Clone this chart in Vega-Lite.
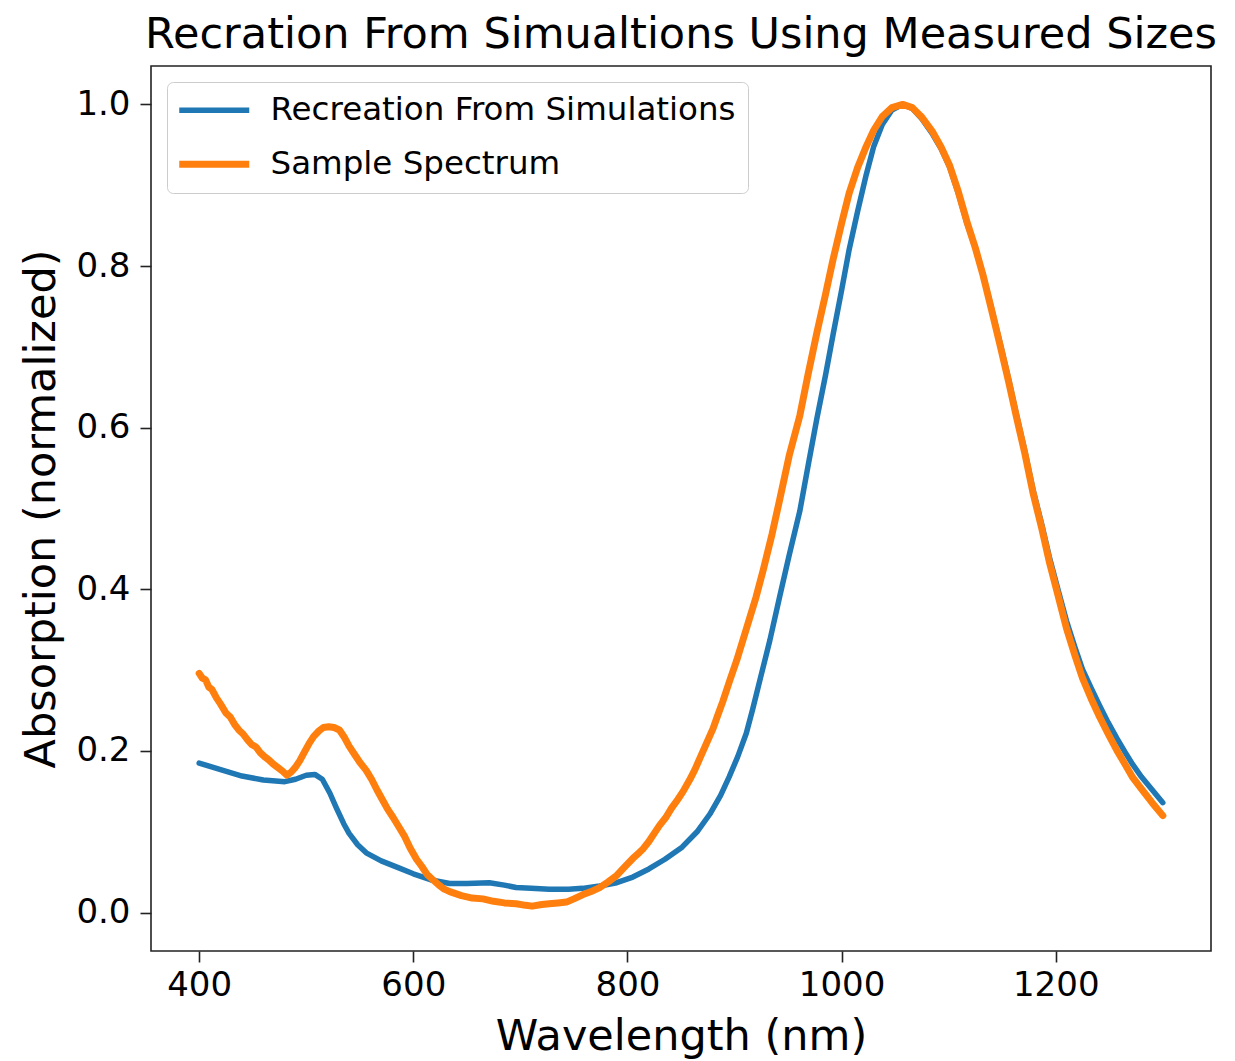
{
  "$schema": "https://vega.github.io/schema/vega-lite/v6.json",
  "autosize": {"type": "none"},
  "width": 1060,
  "height": 885,
  "padding": {"left": 151, "top": 66, "right": 24, "bottom": 110},
  "background": "white",
  "config": {
    "font": "DejaVu Sans",
    "view": {"stroke": "#222222", "strokeWidth": 1.6},
    "axis": {"grid": false, "domain": false, "tickColor": "#222222", "tickWidth": 1.6, "tickSize": 11, "labelColor": "black", "titleColor": "black", "labelFont": "DejaVu Sans", "titleFont": "DejaVu Sans", "titleFontWeight": "normal", "labelFontSize": 34, "titleFontSize": 43},
    "title": {"font": "DejaVu Sans", "fontSize": 43, "fontWeight": "normal", "color": "black"}
  },
  "title": {"text": "Recration From Simualtions Using Measured Sizes", "anchor": "middle", "offset": 9},
  "data": {"values": [
    {"wl": 400, "v": 0.185, "s": "Recreation From Simulations"},
    {"wl": 420, "v": 0.177, "s": "Recreation From Simulations"},
    {"wl": 440, "v": 0.169, "s": "Recreation From Simulations"},
    {"wl": 460, "v": 0.164, "s": "Recreation From Simulations"},
    {"wl": 480, "v": 0.162, "s": "Recreation From Simulations"},
    {"wl": 490, "v": 0.165, "s": "Recreation From Simulations"},
    {"wl": 500, "v": 0.170, "s": "Recreation From Simulations"},
    {"wl": 508, "v": 0.171, "s": "Recreation From Simulations"},
    {"wl": 515, "v": 0.165, "s": "Recreation From Simulations"},
    {"wl": 522, "v": 0.148, "s": "Recreation From Simulations"},
    {"wl": 528, "v": 0.130, "s": "Recreation From Simulations"},
    {"wl": 535, "v": 0.110, "s": "Recreation From Simulations"},
    {"wl": 540, "v": 0.098, "s": "Recreation From Simulations"},
    {"wl": 548, "v": 0.084, "s": "Recreation From Simulations"},
    {"wl": 556, "v": 0.074, "s": "Recreation From Simulations"},
    {"wl": 570, "v": 0.064, "s": "Recreation From Simulations"},
    {"wl": 587, "v": 0.055, "s": "Recreation From Simulations"},
    {"wl": 600, "v": 0.048, "s": "Recreation From Simulations"},
    {"wl": 618, "v": 0.040, "s": "Recreation From Simulations"},
    {"wl": 634, "v": 0.036, "s": "Recreation From Simulations"},
    {"wl": 650, "v": 0.036, "s": "Recreation From Simulations"},
    {"wl": 671, "v": 0.037, "s": "Recreation From Simulations"},
    {"wl": 685, "v": 0.034, "s": "Recreation From Simulations"},
    {"wl": 696, "v": 0.031, "s": "Recreation From Simulations"},
    {"wl": 710, "v": 0.030, "s": "Recreation From Simulations"},
    {"wl": 727, "v": 0.029, "s": "Recreation From Simulations"},
    {"wl": 745, "v": 0.029, "s": "Recreation From Simulations"},
    {"wl": 758, "v": 0.030, "s": "Recreation From Simulations"},
    {"wl": 774, "v": 0.033, "s": "Recreation From Simulations"},
    {"wl": 790, "v": 0.037, "s": "Recreation From Simulations"},
    {"wl": 805, "v": 0.044, "s": "Recreation From Simulations"},
    {"wl": 820, "v": 0.054, "s": "Recreation From Simulations"},
    {"wl": 835, "v": 0.066, "s": "Recreation From Simulations"},
    {"wl": 851, "v": 0.081, "s": "Recreation From Simulations"},
    {"wl": 865, "v": 0.100, "s": "Recreation From Simulations"},
    {"wl": 877, "v": 0.122, "s": "Recreation From Simulations"},
    {"wl": 887, "v": 0.145, "s": "Recreation From Simulations"},
    {"wl": 895, "v": 0.168, "s": "Recreation From Simulations"},
    {"wl": 903, "v": 0.193, "s": "Recreation From Simulations"},
    {"wl": 911, "v": 0.222, "s": "Recreation From Simulations"},
    {"wl": 917, "v": 0.252, "s": "Recreation From Simulations"},
    {"wl": 923, "v": 0.284, "s": "Recreation From Simulations"},
    {"wl": 933, "v": 0.337, "s": "Recreation From Simulations"},
    {"wl": 942, "v": 0.390, "s": "Recreation From Simulations"},
    {"wl": 951, "v": 0.442, "s": "Recreation From Simulations"},
    {"wl": 961, "v": 0.497, "s": "Recreation From Simulations"},
    {"wl": 969, "v": 0.555, "s": "Recreation From Simulations"},
    {"wl": 977, "v": 0.612, "s": "Recreation From Simulations"},
    {"wl": 985, "v": 0.665, "s": "Recreation From Simulations"},
    {"wl": 992, "v": 0.715, "s": "Recreation From Simulations"},
    {"wl": 1000, "v": 0.770, "s": "Recreation From Simulations"},
    {"wl": 1007, "v": 0.820, "s": "Recreation From Simulations"},
    {"wl": 1015, "v": 0.868, "s": "Recreation From Simulations"},
    {"wl": 1023, "v": 0.913, "s": "Recreation From Simulations"},
    {"wl": 1030, "v": 0.948, "s": "Recreation From Simulations"},
    {"wl": 1038, "v": 0.975, "s": "Recreation From Simulations"},
    {"wl": 1047, "v": 0.993, "s": "Recreation From Simulations"},
    {"wl": 1057, "v": 1.0, "s": "Recreation From Simulations"},
    {"wl": 1066, "v": 0.995, "s": "Recreation From Simulations"},
    {"wl": 1075, "v": 0.982, "s": "Recreation From Simulations"},
    {"wl": 1085, "v": 0.963, "s": "Recreation From Simulations"},
    {"wl": 1093, "v": 0.945, "s": "Recreation From Simulations"},
    {"wl": 1101, "v": 0.922, "s": "Recreation From Simulations"},
    {"wl": 1109, "v": 0.890, "s": "Recreation From Simulations"},
    {"wl": 1117, "v": 0.853, "s": "Recreation From Simulations"},
    {"wl": 1125, "v": 0.822, "s": "Recreation From Simulations"},
    {"wl": 1132, "v": 0.790, "s": "Recreation From Simulations"},
    {"wl": 1140, "v": 0.748, "s": "Recreation From Simulations"},
    {"wl": 1148, "v": 0.705, "s": "Recreation From Simulations"},
    {"wl": 1156, "v": 0.660, "s": "Recreation From Simulations"},
    {"wl": 1163, "v": 0.618, "s": "Recreation From Simulations"},
    {"wl": 1171, "v": 0.572, "s": "Recreation From Simulations"},
    {"wl": 1179, "v": 0.522, "s": "Recreation From Simulations"},
    {"wl": 1187, "v": 0.480, "s": "Recreation From Simulations"},
    {"wl": 1194, "v": 0.440, "s": "Recreation From Simulations"},
    {"wl": 1202, "v": 0.400, "s": "Recreation From Simulations"},
    {"wl": 1210, "v": 0.361, "s": "Recreation From Simulations"},
    {"wl": 1218, "v": 0.328, "s": "Recreation From Simulations"},
    {"wl": 1225, "v": 0.301, "s": "Recreation From Simulations"},
    {"wl": 1233, "v": 0.278, "s": "Recreation From Simulations"},
    {"wl": 1241, "v": 0.256, "s": "Recreation From Simulations"},
    {"wl": 1249, "v": 0.235, "s": "Recreation From Simulations"},
    {"wl": 1257, "v": 0.216, "s": "Recreation From Simulations"},
    {"wl": 1265, "v": 0.198, "s": "Recreation From Simulations"},
    {"wl": 1272, "v": 0.183, "s": "Recreation From Simulations"},
    {"wl": 1280, "v": 0.168, "s": "Recreation From Simulations"},
    {"wl": 1290, "v": 0.152, "s": "Recreation From Simulations"},
    {"wl": 1300, "v": 0.136, "s": "Recreation From Simulations"},
    {"wl": 400, "v": 0.296, "s": "Sample Spectrum"},
    {"wl": 403, "v": 0.290, "s": "Sample Spectrum"},
    {"wl": 406, "v": 0.288, "s": "Sample Spectrum"},
    {"wl": 409, "v": 0.279, "s": "Sample Spectrum"},
    {"wl": 412, "v": 0.276, "s": "Sample Spectrum"},
    {"wl": 416, "v": 0.266, "s": "Sample Spectrum"},
    {"wl": 420, "v": 0.258, "s": "Sample Spectrum"},
    {"wl": 425, "v": 0.247, "s": "Sample Spectrum"},
    {"wl": 429, "v": 0.242, "s": "Sample Spectrum"},
    {"wl": 433, "v": 0.233, "s": "Sample Spectrum"},
    {"wl": 437, "v": 0.226, "s": "Sample Spectrum"},
    {"wl": 441, "v": 0.221, "s": "Sample Spectrum"},
    {"wl": 445, "v": 0.214, "s": "Sample Spectrum"},
    {"wl": 449, "v": 0.208, "s": "Sample Spectrum"},
    {"wl": 453, "v": 0.205, "s": "Sample Spectrum"},
    {"wl": 457, "v": 0.198, "s": "Sample Spectrum"},
    {"wl": 461, "v": 0.193, "s": "Sample Spectrum"},
    {"wl": 465, "v": 0.189, "s": "Sample Spectrum"},
    {"wl": 469, "v": 0.184, "s": "Sample Spectrum"},
    {"wl": 473, "v": 0.180, "s": "Sample Spectrum"},
    {"wl": 478, "v": 0.175, "s": "Sample Spectrum"},
    {"wl": 482, "v": 0.170, "s": "Sample Spectrum"},
    {"wl": 486, "v": 0.174, "s": "Sample Spectrum"},
    {"wl": 490, "v": 0.180, "s": "Sample Spectrum"},
    {"wl": 494, "v": 0.188, "s": "Sample Spectrum"},
    {"wl": 498, "v": 0.198, "s": "Sample Spectrum"},
    {"wl": 503, "v": 0.210, "s": "Sample Spectrum"},
    {"wl": 507, "v": 0.218, "s": "Sample Spectrum"},
    {"wl": 512, "v": 0.225, "s": "Sample Spectrum"},
    {"wl": 516, "v": 0.229, "s": "Sample Spectrum"},
    {"wl": 521, "v": 0.230, "s": "Sample Spectrum"},
    {"wl": 526, "v": 0.229, "s": "Sample Spectrum"},
    {"wl": 531, "v": 0.226, "s": "Sample Spectrum"},
    {"wl": 536, "v": 0.216, "s": "Sample Spectrum"},
    {"wl": 540, "v": 0.206, "s": "Sample Spectrum"},
    {"wl": 545, "v": 0.196, "s": "Sample Spectrum"},
    {"wl": 550, "v": 0.186, "s": "Sample Spectrum"},
    {"wl": 556, "v": 0.176, "s": "Sample Spectrum"},
    {"wl": 561, "v": 0.165, "s": "Sample Spectrum"},
    {"wl": 566, "v": 0.152, "s": "Sample Spectrum"},
    {"wl": 571, "v": 0.140, "s": "Sample Spectrum"},
    {"wl": 576, "v": 0.128, "s": "Sample Spectrum"},
    {"wl": 581, "v": 0.118, "s": "Sample Spectrum"},
    {"wl": 587, "v": 0.105, "s": "Sample Spectrum"},
    {"wl": 592, "v": 0.094, "s": "Sample Spectrum"},
    {"wl": 597, "v": 0.080, "s": "Sample Spectrum"},
    {"wl": 603, "v": 0.066, "s": "Sample Spectrum"},
    {"wl": 608, "v": 0.057, "s": "Sample Spectrum"},
    {"wl": 613, "v": 0.047, "s": "Sample Spectrum"},
    {"wl": 618, "v": 0.041, "s": "Sample Spectrum"},
    {"wl": 624, "v": 0.034, "s": "Sample Spectrum"},
    {"wl": 629, "v": 0.029, "s": "Sample Spectrum"},
    {"wl": 634, "v": 0.026, "s": "Sample Spectrum"},
    {"wl": 645, "v": 0.021, "s": "Sample Spectrum"},
    {"wl": 655, "v": 0.018, "s": "Sample Spectrum"},
    {"wl": 665, "v": 0.017, "s": "Sample Spectrum"},
    {"wl": 675, "v": 0.014, "s": "Sample Spectrum"},
    {"wl": 685, "v": 0.012, "s": "Sample Spectrum"},
    {"wl": 696, "v": 0.011, "s": "Sample Spectrum"},
    {"wl": 705, "v": 0.009, "s": "Sample Spectrum"},
    {"wl": 711, "v": 0.008, "s": "Sample Spectrum"},
    {"wl": 720, "v": 0.010, "s": "Sample Spectrum"},
    {"wl": 727, "v": 0.011, "s": "Sample Spectrum"},
    {"wl": 735, "v": 0.012, "s": "Sample Spectrum"},
    {"wl": 743, "v": 0.013, "s": "Sample Spectrum"},
    {"wl": 750, "v": 0.017, "s": "Sample Spectrum"},
    {"wl": 758, "v": 0.022, "s": "Sample Spectrum"},
    {"wl": 766, "v": 0.026, "s": "Sample Spectrum"},
    {"wl": 774, "v": 0.031, "s": "Sample Spectrum"},
    {"wl": 782, "v": 0.038, "s": "Sample Spectrum"},
    {"wl": 790, "v": 0.046, "s": "Sample Spectrum"},
    {"wl": 797, "v": 0.056, "s": "Sample Spectrum"},
    {"wl": 805, "v": 0.067, "s": "Sample Spectrum"},
    {"wl": 810, "v": 0.073, "s": "Sample Spectrum"},
    {"wl": 814, "v": 0.078, "s": "Sample Spectrum"},
    {"wl": 820, "v": 0.088, "s": "Sample Spectrum"},
    {"wl": 825, "v": 0.098, "s": "Sample Spectrum"},
    {"wl": 830, "v": 0.108, "s": "Sample Spectrum"},
    {"wl": 836, "v": 0.118, "s": "Sample Spectrum"},
    {"wl": 841, "v": 0.129, "s": "Sample Spectrum"},
    {"wl": 847, "v": 0.140, "s": "Sample Spectrum"},
    {"wl": 852, "v": 0.150, "s": "Sample Spectrum"},
    {"wl": 858, "v": 0.164, "s": "Sample Spectrum"},
    {"wl": 863, "v": 0.177, "s": "Sample Spectrum"},
    {"wl": 868, "v": 0.192, "s": "Sample Spectrum"},
    {"wl": 874, "v": 0.210, "s": "Sample Spectrum"},
    {"wl": 880, "v": 0.228, "s": "Sample Spectrum"},
    {"wl": 884, "v": 0.243, "s": "Sample Spectrum"},
    {"wl": 889, "v": 0.261, "s": "Sample Spectrum"},
    {"wl": 895, "v": 0.285, "s": "Sample Spectrum"},
    {"wl": 902, "v": 0.312, "s": "Sample Spectrum"},
    {"wl": 908, "v": 0.338, "s": "Sample Spectrum"},
    {"wl": 914, "v": 0.364, "s": "Sample Spectrum"},
    {"wl": 920, "v": 0.390, "s": "Sample Spectrum"},
    {"wl": 927, "v": 0.425, "s": "Sample Spectrum"},
    {"wl": 935, "v": 0.468, "s": "Sample Spectrum"},
    {"wl": 942, "v": 0.510, "s": "Sample Spectrum"},
    {"wl": 951, "v": 0.565, "s": "Sample Spectrum"},
    {"wl": 961, "v": 0.615, "s": "Sample Spectrum"},
    {"wl": 969, "v": 0.668, "s": "Sample Spectrum"},
    {"wl": 977, "v": 0.718, "s": "Sample Spectrum"},
    {"wl": 985, "v": 0.765, "s": "Sample Spectrum"},
    {"wl": 992, "v": 0.808, "s": "Sample Spectrum"},
    {"wl": 1000, "v": 0.853, "s": "Sample Spectrum"},
    {"wl": 1007, "v": 0.890, "s": "Sample Spectrum"},
    {"wl": 1015, "v": 0.922, "s": "Sample Spectrum"},
    {"wl": 1023, "v": 0.948, "s": "Sample Spectrum"},
    {"wl": 1030, "v": 0.968, "s": "Sample Spectrum"},
    {"wl": 1038, "v": 0.985, "s": "Sample Spectrum"},
    {"wl": 1047, "v": 0.996, "s": "Sample Spectrum"},
    {"wl": 1057, "v": 1.0, "s": "Sample Spectrum"},
    {"wl": 1066, "v": 0.996, "s": "Sample Spectrum"},
    {"wl": 1075, "v": 0.984, "s": "Sample Spectrum"},
    {"wl": 1085, "v": 0.966, "s": "Sample Spectrum"},
    {"wl": 1093, "v": 0.947, "s": "Sample Spectrum"},
    {"wl": 1101, "v": 0.924, "s": "Sample Spectrum"},
    {"wl": 1109, "v": 0.892, "s": "Sample Spectrum"},
    {"wl": 1117, "v": 0.855, "s": "Sample Spectrum"},
    {"wl": 1125, "v": 0.822, "s": "Sample Spectrum"},
    {"wl": 1132, "v": 0.789, "s": "Sample Spectrum"},
    {"wl": 1140, "v": 0.746, "s": "Sample Spectrum"},
    {"wl": 1148, "v": 0.702, "s": "Sample Spectrum"},
    {"wl": 1156, "v": 0.657, "s": "Sample Spectrum"},
    {"wl": 1163, "v": 0.615, "s": "Sample Spectrum"},
    {"wl": 1171, "v": 0.569, "s": "Sample Spectrum"},
    {"wl": 1179, "v": 0.518, "s": "Sample Spectrum"},
    {"wl": 1187, "v": 0.475, "s": "Sample Spectrum"},
    {"wl": 1194, "v": 0.434, "s": "Sample Spectrum"},
    {"wl": 1202, "v": 0.393, "s": "Sample Spectrum"},
    {"wl": 1210, "v": 0.352, "s": "Sample Spectrum"},
    {"wl": 1218, "v": 0.318, "s": "Sample Spectrum"},
    {"wl": 1225, "v": 0.290, "s": "Sample Spectrum"},
    {"wl": 1233, "v": 0.265, "s": "Sample Spectrum"},
    {"wl": 1241, "v": 0.242, "s": "Sample Spectrum"},
    {"wl": 1249, "v": 0.221, "s": "Sample Spectrum"},
    {"wl": 1257, "v": 0.201, "s": "Sample Spectrum"},
    {"wl": 1265, "v": 0.183, "s": "Sample Spectrum"},
    {"wl": 1272, "v": 0.167, "s": "Sample Spectrum"},
    {"wl": 1280, "v": 0.153, "s": "Sample Spectrum"},
    {"wl": 1290, "v": 0.136, "s": "Sample Spectrum"},
    {"wl": 1300, "v": 0.120, "s": "Sample Spectrum"}
  ]},
  "mark": {"type": "line", "strokeCap": "round", "strokeJoin": "round", "clip": true},
  "encoding": {
    "x": {"field": "wl", "type": "quantitative", "scale": {"domain": [355, 1345], "nice": false, "zero": false},
      "axis": {"title": "Wavelength (nm)", "values": [400, 600, 800, 1000, 1200], "format": "d", "labelPadding": 6, "titlePadding": 13}},
    "y": {"field": "v", "type": "quantitative", "scale": {"domain": [-0.0475, 1.0475], "nice": false, "zero": false},
      "axis": {"title": "Absorption (normalized)", "values": [0, 0.2, 0.4, 0.6, 0.8, 1.0], "format": ".1f", "labelPadding": 10, "titlePadding": 12}},
    "color": {"field": "s", "type": "nominal",
      "scale": {"domain": ["Recreation From Simulations", "Sample Spectrum"], "range": ["#1f77b4", "#ff7f0e"]},
      "legend": {"title": null, "orient": "top-left", "offset": 16, "symbolType": "M-5,0H5", "symbolSize": 196, "symbolOffset": 19, "symbolStrokeWidth": 6,
        "labelFontSize": 32.5, "labelColor": "black", "labelFont": "DejaVu Sans", "labelLimit": 800, "labelOffset": 40, "rowPadding": 21, "padding": 12,
        "fillColor": "white", "strokeColor": "#cccccc", "cornerRadius": 6}},
    "strokeWidth": {"field": "s", "type": "nominal", "scale": {"domain": ["Recreation From Simulations", "Sample Spectrum"], "range": [5.5, 7]}, "legend": null},
    "order": {"field": "wl", "type": "quantitative"}
  }
}
